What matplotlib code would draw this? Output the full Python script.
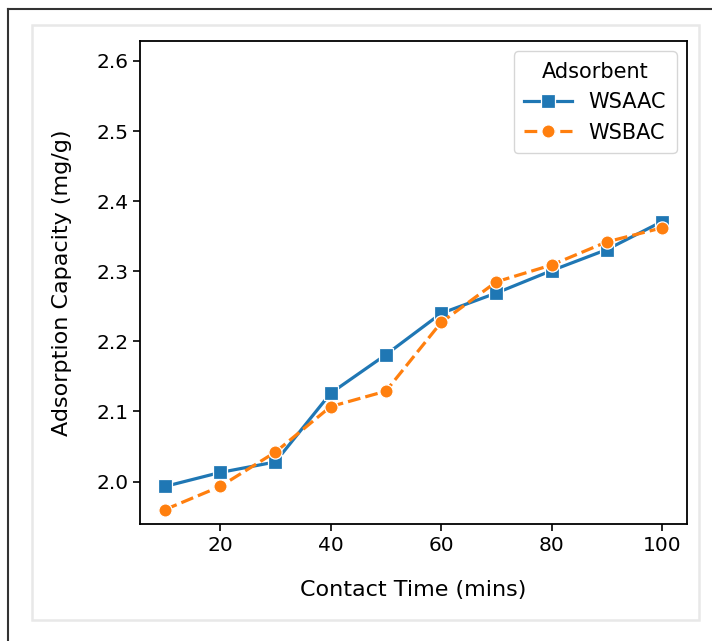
import numpy as np
import matplotlib.pyplot as plt
from matplotlib.lines import Line2D
from matplotlib.patches import Rectangle

time = [10, 20, 30, 40, 50, 60, 70, 80, 90, 100]
wsaac = [1.993, 2.013, 2.028, 2.126, 2.181, 2.240, 2.269, 2.301, 2.331, 2.371]
wsbac = [1.960, 1.993, 2.042, 2.107, 2.129, 2.227, 2.285, 2.309, 2.342, 2.362]

fig = plt.figure(figsize=(7.12, 6.41), dpi=100)

# screenshot frame around the chart
fig.add_artist(Line2D([8 / 712, 8 / 712], [0, 1 - 9 / 641], color="#333333", lw=1.5,
                      transform=fig.transFigure))
fig.add_artist(Line2D([8 / 712, 1], [1 - 9 / 641, 1 - 9 / 641], color="#333333", lw=1.5,
                      transform=fig.transFigure))
fig.add_artist(Rectangle((32 / 712, 1 - 620 / 641), (699 - 32) / 712, (620 - 25) / 641,
                         transform=fig.transFigure, fill=False, edgecolor="#e8e8e8", lw=1.8))

ax = fig.add_axes([140 / 712, 1 - 524 / 641, (687 - 140) / 712, (524 - 41) / 641])

ax.plot(time, wsaac, color="tab:blue", lw=2.3, marker="s", ms=9.5,
        markeredgecolor="white", markeredgewidth=0.9, label="WSAAC")
ax.plot(time, wsbac, color="tab:orange", lw=2.3, marker="o", ms=9.5,
        markeredgecolor="white", markeredgewidth=0.9, dashes=(4, 1.6), label="WSBAC")

ax.set_ylim(1.9395, 2.6285)
ax.set_yticks([2.0, 2.1, 2.2, 2.3, 2.4, 2.5, 2.6])
ax.set_xticks([20, 40, 60, 80, 100])
ax.tick_params(labelsize=14.5, width=1.2, length=5)
for s in ax.spines.values():
    s.set_linewidth(1.3)

ax.set_xlabel("Contact Time (mins)", fontsize=16, labelpad=18)
ax.set_ylabel("Adsorption Capacity (mg/g)", fontsize=16, labelpad=17)

leg = ax.legend(title="Adsorbent", fontsize=15, title_fontsize=15, loc="upper right",
                handlelength=2.3, borderpad=0.5)

fig.savefig("out.png", dpi=100)
